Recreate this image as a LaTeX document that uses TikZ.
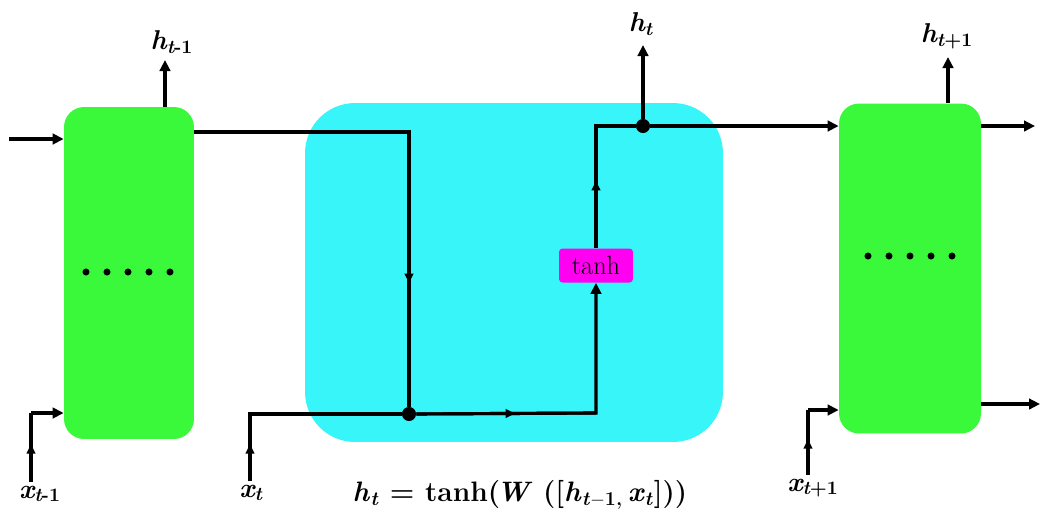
\documentclass[tikz,border=0pt]{standalone}
\usetikzlibrary{arrows.meta,positioning,calc,decorations.markings}
\definecolor{cellgreen}{RGB}{58,248,58}
\definecolor{corecyan}{RGB}{56,245,250}
\definecolor{gatemag}{RGB}{255,0,240}
\tikzset{
  cell/.style={fill=cellgreen, rounded corners=0.4cm, minimum width=2.6cm, minimum height=6.64cm, inner sep=0pt},
  core/.style={fill=corecyan, rounded corners=1cm, minimum width=8.36cm, minimum height=6.78cm, inner sep=0pt},
  gate/.style={fill=gatemag, rounded corners=2pt, minimum width=1.48cm, minimum height=0.68cm, inner sep=0pt, font=\fontsize{15}{18}\selectfont},
  lbl/.style={font=\fontsize{15.5}{18}\selectfont\bfseries\itshape, inner sep=2pt},
  wire/.style={line width=1.8pt},
  arrow/.style={-{Triangle[length=2.2mm,width=2.1mm]}, line width=1.8pt},
  midarrow/.style={line width=1.8pt, decoration={markings, mark=at position 0.55 with {\arrow{Triangle[length=1.9mm,width=1.7mm]}}}, postaction={decorate}},
  dot/.style={circle, fill=black, minimum size=8pt, inner sep=0pt},
  pip/.style={circle, fill=black, minimum size=4pt, inner sep=0pt}
}

\begin{document}
\begin{tikzpicture}[x=0.02cm, y=-0.02cm]
\useasboundingbox (0,0) rectangle (1044,522);
% cells
\node[cell] (lcell) at (129,273) {};
\node[core] (core) at (514,272.5) {};
\node[cell, minimum width=2.84cm, minimum height=6.6cm] (rcell) at (910,268.5) {};
\node[gate] (tanh) at (596,265.5) {tanh};
\node[dot] (mix) at (409,414) {};
\node[dot] (out) at (643,126) {};
\foreach \i in {0,...,4} {
  \node[pip] (lpip\i) at (86+\i*21,272) {};
  \node[pip] (rpip\i) at (868+\i*21,256) {};
}
% labels
\node[lbl] (hprev) at (172,42) {h\textsubscript{t\upshape-1}};
\node[lbl] (ht) at (641,24) {h\textsubscript{t}};
\node[lbl] (hnext) at (947,36) {h\textsubscript{t\upshape+1}};
\node[lbl] (xprev) at (40,494) {x\textsubscript{t\upshape-1}};
\node[lbl] (xt) at (251,493) {x\textsubscript{t}};
\node[lbl] (xnext) at (813,488) {x\textsubscript{t\upshape+1}};
\node[font=\fontsize{16}{20}\selectfont\bfseries] (eq) at (520,495)
  {\textit{h}\textsubscript{\textit{t}} = tanh(\kern-2pt\textit{W} ([\textit{h}\textsubscript{\textit{t}$-$1,}\,\textit{x}\textsubscript{\textit{t}}]))};
% bends
\coordinate (hin) at (9,139);
\coordinate (hprevtip) at (165,60);
\coordinate (hnexttip) at (948,57);
\coordinate (httip) at (643,45);
\coordinate (down) at (409,132);
\coordinate (xb1) at (31,413);
\coordinate (xb2) at (250,414);
\coordinate (xb3) at (808,410);
\coordinate (up1) at (596,413);
\coordinate (up2) at (596,126);
\coordinate (rout1) at (1035,126);
\coordinate (rout2) at (1040,404);
% left cell
\draw[arrow] (hin) -- (hin -| lcell.west);
\draw[arrow] (lcell.north -| hprevtip) -- (hprevtip);
\draw[wire] (xprev.north -| xb1) -- (xb1);
\draw[midarrow] (xprev.north -| xb1) -- (xb1);
\draw[arrow] (xb1) -- (xb1 -| lcell.west);
% core
\draw[wire] (lcell.east |- down) -- (down) -- (mix);
\draw[midarrow] (down) -- (mix);
\draw[wire] (xt.north -| xb2) -- (xb2) -- (mix);
\draw[midarrow] (xt.north -| xb2) -- (xb2);
\draw[arrow] (mix) -- (up1) -- (tanh.south);
\draw[midarrow] (mix) -- (up1);
\draw[wire] (tanh.north) -- (up2) -- (out);
\draw[midarrow] (tanh.north) -- (up2);
\draw[arrow] (out) -- (httip);
\draw[arrow] (out) -- (out -| rcell.west);
% right cell
\draw[arrow] (rcell.north -| hnexttip) -- (hnexttip);
\draw[arrow] (rcell.east |- rout1) -- (rout1);
\draw[arrow] (rcell.east |- rout2) -- (rout2);
\draw[wire] (xnext.north -| xb3) -- (xb3);
\draw[midarrow] (xnext.north -| xb3) -- (xb3);
\draw[arrow] (xb3) -- (xb3 -| rcell.west);
\end{tikzpicture}
\end{document}
